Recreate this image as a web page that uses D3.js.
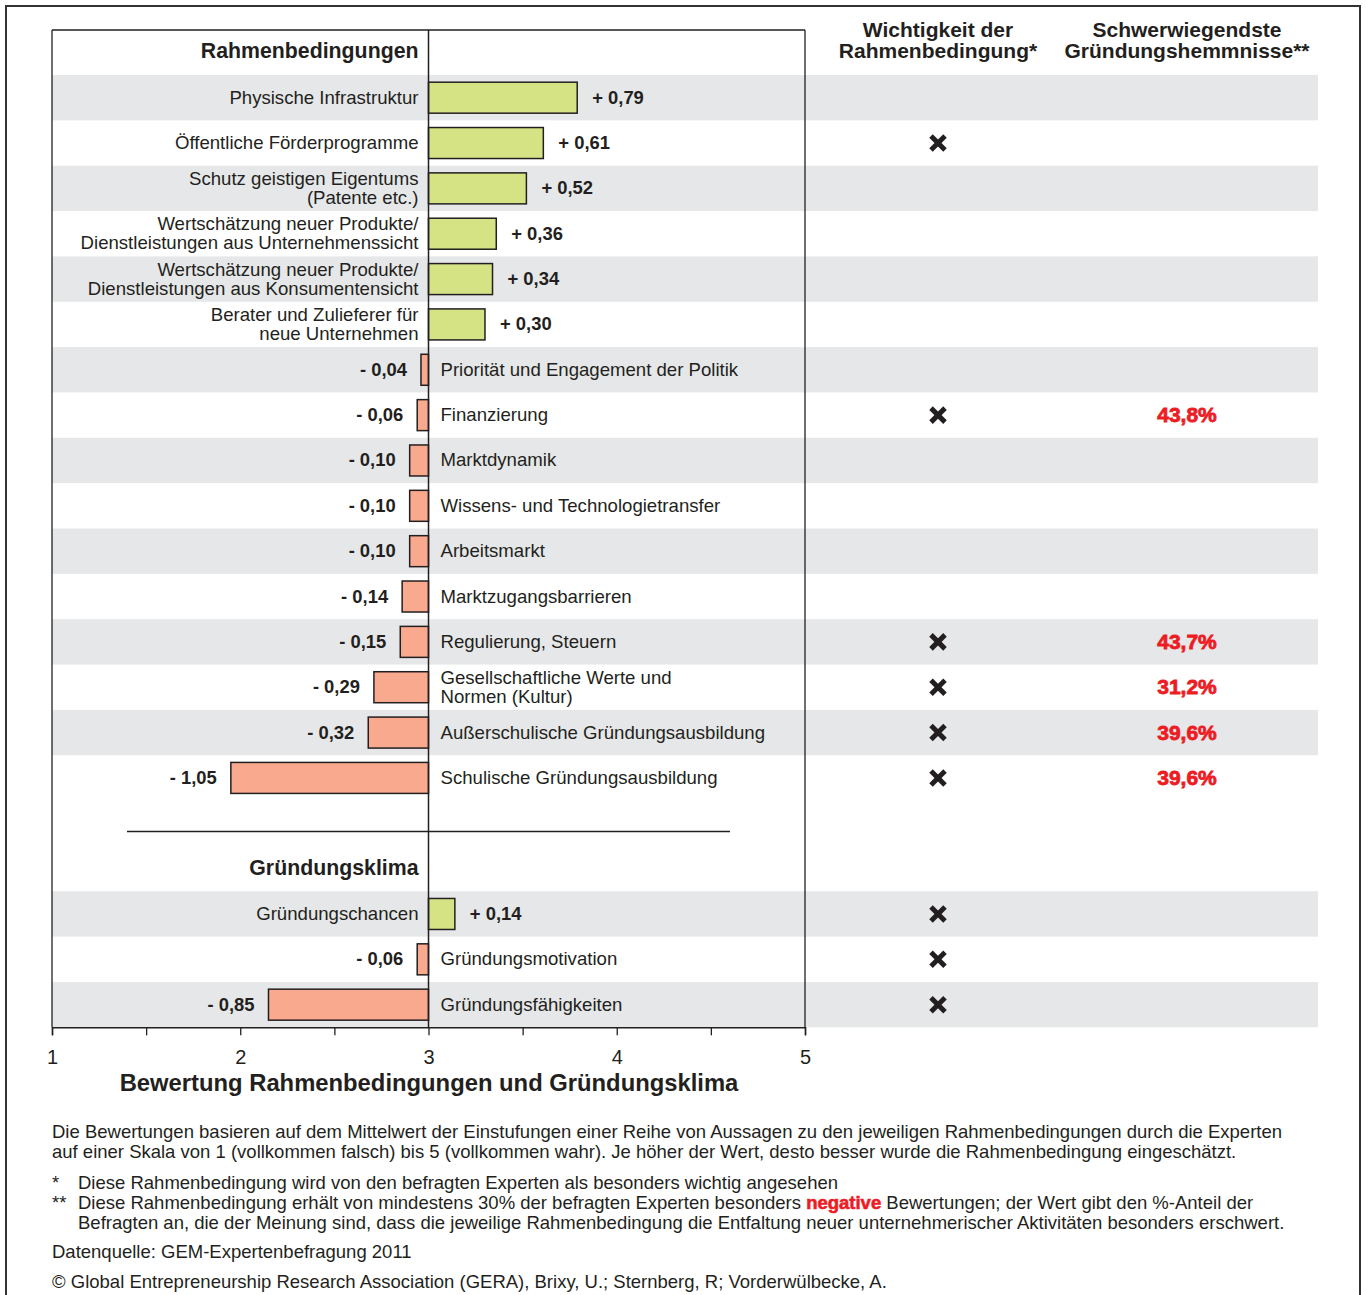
<!DOCTYPE html>
<html><head><meta charset="utf-8">
<script src="https://cdn.jsdelivr.net/npm/d3@7"></script>
<style>
body{margin:0;background:#fff;}
svg{display:block;font-family:"Liberation Sans",Arial,sans-serif;}
</style></head>
<body>
<svg id="c" width="1366" height="1295"></svg>
<script>
// ---- Data ----
const rahmenLabels = [
  "Physische Infrastruktur",
  "Öffentliche Förderprogramme",
  "Schutz geistigen Eigentums|(Patente etc.)",
  "Wertschätzung neuer Produkte/|Dienstleistungen aus Unternehmenssicht",
  "Wertschätzung neuer Produkte/|Dienstleistungen aus Konsumentensicht",
  "Berater und Zulieferer für|neue Unternehmen",
  "Priorität und Engagement der Politik",
  "Finanzierung",
  "Marktdynamik",
  "Wissens- und Technologietransfer",
  "Arbeitsmarkt",
  "Marktzugangsbarrieren",
  "Regulierung, Steuern",
  "Gesellschaftliche Werte und|Normen (Kultur)",
  "Außerschulische Gründungsausbildung",
  "Schulische Gründungsausbildung"
];
const rahmenValues = [0.79, 0.61, 0.52, 0.36, 0.34, 0.30, -0.04, -0.06, -0.10, -0.10, -0.10, -0.14, -0.15, -0.29, -0.32, -1.05];
const rahmenImportant = [false, true, false, false, false, false, false, true, false, false, false, false, true, true, true, true];
const rahmenHemmnis = [null, null, null, null, null, null, null, "43,8%", null, null, null, null, "43,7%", "31,2%", "39,6%", "39,6%"];

const klimaLabels = ["Gründungschancen", "Gründungsmotivation", "Gründungsfähigkeiten"];
const klimaValues = [0.14, -0.06, -0.85];
const klimaImportant = [true, true, true];
const klimaHemmnis = [null, null, null];

const axisTicks = [1, 1.5, 2, 2.5, 3, 3.5, 4, 4.5, 5];
const axisLabels = ["1", "", "2", "", "3", "", "4", "", "5"];
const baseline = 3;

const headerLeft1 = "Rahmenbedingungen";
const headerLeft2 = "Gründungsklima";
const colHeader1 = ["Wichtigkeit der", "Rahmenbedingung*"];
const colHeader2 = ["Schwerwiegendste", "Gründungshemmnisse**"];
const axisTitle = "Bewertung Rahmenbedingungen und Gründungsklima";

// ---- Build rows ----
const rows = [];
rahmenLabels.forEach((l, i) => rows.push({label: l, value: rahmenValues[i], imp: rahmenImportant[i], pct: rahmenHemmnis[i], slot: i}));
klimaLabels.forEach((l, i) => rows.push({label: l, value: klimaValues[i], imp: klimaImportant[i], pct: klimaHemmnis[i], slot: rahmenLabels.length + 2 + i}));
const nSlots = rahmenLabels.length + 2 + klimaLabels.length;

const ink = "#231f20";
const svg = d3.select("#c");
const x = d3.scaleLinear().domain([1, 5]).range([52, 805]);
const rowH = 45.35;
const top0 = 75;
const ys = d3.scaleLinear().domain([0, nSlots]).range([top0, top0 + nSlots * rowH]);
const x0 = x(baseline);
const plotTop = 30, plotBottom = ys(nSlots);

// outer border
svg.append("rect").attr("x", 6).attr("y", 6).attr("width", 1354).attr("height", 1300)
  .attr("fill", "none").attr("stroke", "#333").attr("stroke-width", 2);

// bands
svg.append("g").selectAll("rect").data(rows.filter(r => r.slot % 2 === 0)).join("rect")
  .attr("x", x(1)).attr("width", 1318 - x(1))
  .attr("y", d => ys(d.slot)).attr("height", rowH)
  .attr("fill", "#e6e7e8");

// frame
const fr = svg.append("g").attr("stroke", ink).attr("stroke-width", 1.3).attr("fill", "none");
fr.append("line").attr("x1", x(1)).attr("x2", x(5)).attr("y1", plotTop).attr("y2", plotTop);
fr.append("line").attr("x1", x(1)).attr("x2", x(1)).attr("y1", plotTop).attr("y2", plotBottom);
fr.append("line").attr("x1", x(5)).attr("x2", x(5)).attr("y1", plotTop).attr("y2", plotBottom);

// separator
const sepY = ys(rahmenLabels.length) + 31;
svg.append("line").attr("x1", 127).attr("x2", 730).attr("y1", sepY).attr("y2", sepY)
  .attr("stroke", ink).attr("stroke-width", 1.5);

// bars
const barH = 31;
svg.append("g").selectAll("rect").data(rows).join("rect")
  .attr("x", d => Math.min(x(baseline + d.value), x0))
  .attr("width", d => Math.abs(x(baseline + d.value) - x0))
  .attr("y", d => ys(d.slot) + (rowH - barH) / 2)
  .attr("height", barH)
  .attr("fill", d => d.value >= 0 ? "#d5e384" : "#f8a98e")
  .attr("stroke", ink).attr("stroke-width", 1.5);

// zero line
svg.append("line").attr("x1", x0).attr("x2", x0).attr("y1", plotTop).attr("y2", plotBottom)
  .attr("stroke", ink).attr("stroke-width", 1.5);

// axis
const axis = d3.axisBottom(x).tickValues(axisTicks).tickSize(8).tickPadding(14)
  .tickFormat((d, i) => axisLabels[i]);
const ag = svg.append("g").attr("transform", `translate(0,${plotBottom})`).call(axis);
ag.select(".domain").attr("stroke", ink).attr("stroke-width", 1.5);
ag.selectAll(".tick line").attr("stroke", ink).attr("stroke-width", 1.3);
ag.selectAll(".tick text").attr("fill", ink).style("font-size", "20px").style("font-family", "Liberation Sans, Arial, sans-serif");

// category labels
const lg = svg.append("g").attr("fill", ink);
rows.forEach(d => {
  const lines = d.label.split("|");
  const cy = ys(d.slot) + rowH / 2;
  const ax = d.value >= 0 ? x0 - 10 : x0 + 12;
  const anchor = d.value >= 0 ? "end" : "start";
  if (lines.length === 1) {
    lg.append("text").attr("x", ax).attr("y", cy + 6).attr("text-anchor", anchor)
      .style("font-size", "18.6px").text(lines[0]);
  } else {
    const g = lg.append("g").attr("transform", `translate(${ax},0) scale(1.063,1)`);
    lines.forEach((ln, i) => {
      g.append("text").attr("x", 0).attr("text-anchor", anchor).style("font-size", "17.5px")
        .attr("y", cy + 6 + (i - (lines.length - 1) / 2) * 19).text(ln);
    });
  }
});

// value labels
const fmt = v => (v >= 0 ? "+ " : "- ") + d3.format(".2f")(Math.abs(v)).replace(".", ",");
svg.append("g").selectAll("text").data(rows).join("text")
  .attr("x", d => d.value >= 0 ? x(baseline + d.value) + 15 : x(baseline + d.value) - 14)
  .attr("y", d => ys(d.slot) + rowH / 2 + 6)
  .attr("text-anchor", d => d.value >= 0 ? "start" : "end")
  .attr("fill", ink).attr("font-weight", "bold").style("font-size", "18.4px")
  .text(d => fmt(d.value));

// headers
svg.append("text").attr("x", x0 - 10).attr("y", ys(-1) + rowH / 2 + 6).attr("text-anchor", "end")
  .attr("fill", ink).attr("font-weight", "bold").style("font-size", "21.3px").text(headerLeft1);
svg.append("text").attr("x", x0 - 10).attr("y", ys(rahmenLabels.length + 1) + rowH / 2 + 6).attr("text-anchor", "end")
  .attr("fill", ink).attr("font-weight", "bold").style("font-size", "21.3px").text(headerLeft2);
const colX1 = 938, colX2 = 1187;
[[colHeader1, colX1], [colHeader2, colX2]].forEach(([lines, cx]) => {
  lines.forEach((ln, i) => svg.append("text").attr("x", cx).attr("y", 37 + i * 21)
    .attr("text-anchor", "middle").attr("fill", ink).attr("font-weight", "bold").style("font-size", "21px").text(ln));
});

// X marks
const xm = svg.append("g").attr("stroke", ink).attr("stroke-width", 5);
rows.filter(d => d.imp).forEach(d => {
  const cy = ys(d.slot) + rowH / 2;
  xm.append("line").attr("x1", colX1 - 7).attr("x2", colX1 + 7).attr("y1", cy - 7).attr("y2", cy + 7);
  xm.append("line").attr("x1", colX1 - 7).attr("x2", colX1 + 7).attr("y1", cy + 7).attr("y2", cy - 7);
});

// percentages
svg.append("g").selectAll("text").data(rows.filter(d => d.pct)).join("text")
  .attr("x", colX2).attr("y", d => ys(d.slot) + rowH / 2 + 7)
  .attr("text-anchor", "middle").attr("fill", "#ed1c24").attr("font-weight", "bold")
  .attr("stroke", "#ed1c24").attr("stroke-width", 0.8)
  .style("font-size", "21px").text(d => d.pct);

// axis title
svg.append("text").attr("x", 429).attr("y", 1091).attr("text-anchor", "middle")
  .attr("fill", ink).attr("font-weight", "bold").style("font-size", "23.8px").text(axisTitle);

// footnotes
const fn = svg.append("g").attr("fill", ink).style("font-size", "18.5px");
fn.append("text").attr("x", 52).attr("y", 1138).text("Die Bewertungen basieren auf dem Mittelwert der Einstufungen einer Reihe von Aussagen zu den jeweiligen Rahmenbedingungen durch die Experten");
fn.append("text").attr("x", 52).attr("y", 1158).text("auf einer Skala von 1 (vollkommen falsch) bis 5 (vollkommen wahr). Je höher der Wert, desto besser wurde die Rahmenbedingung eingeschätzt.");
fn.append("text").attr("x", 52).attr("y", 1189).text("*");
fn.append("text").attr("x", 78).attr("y", 1189).text("Diese Rahmenbedingung wird von den befragten Experten als besonders wichtig angesehen");
fn.append("text").attr("x", 52).attr("y", 1209).text("**");
const t4 = fn.append("text").attr("x", 78).attr("y", 1209);
t4.append("tspan").text("Diese Rahmenbedingung erhält von mindestens 30% der befragten Experten besonders ");
t4.append("tspan").attr("fill", "#ed1c24").attr("font-weight", "bold").attr("stroke", "#ed1c24").attr("stroke-width", 0.6).text("negative");
t4.append("tspan").text(" Bewertungen; der Wert gibt den %-Anteil der");
fn.append("text").attr("x", 78).attr("y", 1229).text("Befragten an, die der Meinung sind, dass die jeweilige Rahmenbedingung die Entfaltung neuer unternehmerischer Aktivitäten besonders erschwert.");
fn.append("text").attr("x", 52).attr("y", 1258).text("Datenquelle: GEM-Expertenbefragung 2011");
fn.append("text").attr("x", 52).attr("y", 1288).text("© Global Entrepreneurship Research Association (GERA), Brixy, U.; Sternberg, R; Vorderwülbecke, A.");
</script>
</body></html>
